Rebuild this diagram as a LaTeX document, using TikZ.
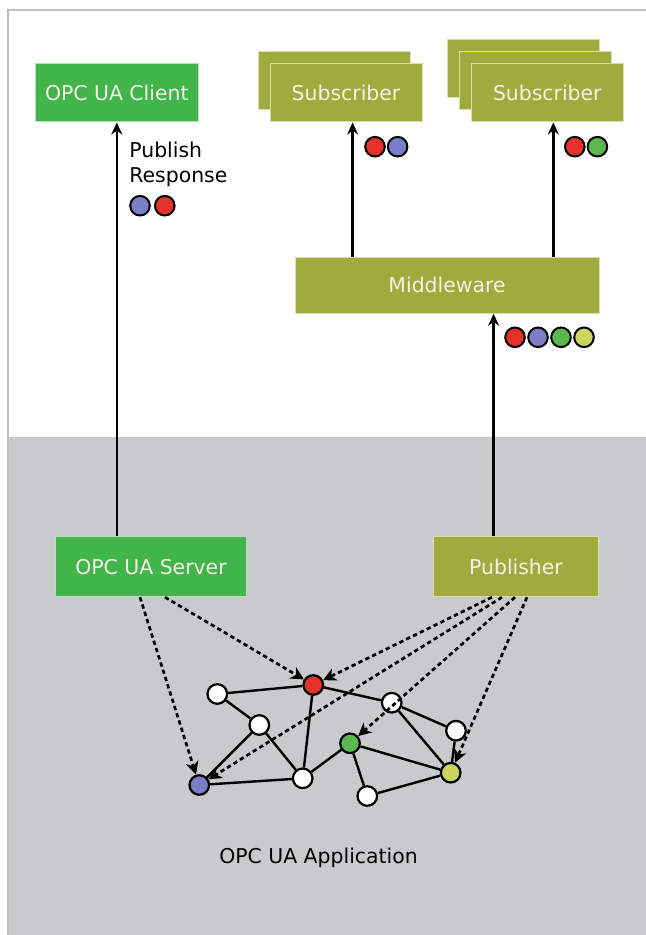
\documentclass[tikz,border=0pt]{standalone}
\usepackage{fontspec}
\setmainfont{DejaVu Sans}
\usetikzlibrary{arrows.meta}
\definecolor{uagreen}{HTML}{41B549}
\definecolor{uaolive}{HTML}{9FAB3C}
\definecolor{bggray}{HTML}{C8CACC}
\definecolor{framegray}{HTML}{BEBEBE}
\definecolor{boxtext}{HTML}{F3F3E8}
\definecolor{dred}{HTML}{E5312C}
\definecolor{dblue}{HTML}{7A7EC6}
\definecolor{dgreen}{HTML}{5BB84E}
\definecolor{dyellow}{HTML}{C9D55E}
\begin{document}
\begin{tikzpicture}[x=0.5pt,y=-0.5pt,
  font=\fontsize{10.2}{12.5}\selectfont,
  gbox/.style={rectangle, inner sep=0pt, fill=uagreen, draw=white!60!uagreen, line width=0.5pt, text=boxtext},
  obox/.style={rectangle, inner sep=0pt, fill=uaolive, draw=white!60!uaolive, line width=0.5pt, text=boxtext},
  subbox/.style={obox, minimum width=76pt, minimum height=29pt},
  gnode/.style={circle, inner sep=0pt, minimum size=9.8pt, draw=black, line width=1.1pt, fill=white},
  sdot/.style={circle, inner sep=0pt, minimum size=9.8pt, draw=black, line width=1pt},
  arr/.style={line width=1.25pt, -{Stealth[length=6pt,width=5.5pt]}},
  darr/.style={line width=1.35pt, dash pattern=on 2.2pt off 1.6pt, -{Stealth[length=6.5pt,width=6.5pt,inset=2pt]}},
  gedge/.style={line width=1.2pt},
]
\useasboundingbox (0,0) rectangle (646,935);
\fill[white] (0,0) rectangle (646,935);
\fill[bggray] (8,437) rectangle (646,935);
\draw[framegray, line width=0.8pt] (646,10) -- (8,10) -- (8,935);

% boxes
\node[gbox, minimum width=81.8pt, minimum height=29pt] (cl) at (116.8,93) {OPC UA Client};
\node[subbox] (s1b) at (334,81) {};
\node[subbox] (s1) at (346,93) {Subscriber};
\node[subbox] (s2c) at (523.3,69) {};
\node[subbox] (s2b) at (535.3,81) {};
\node[subbox] (s2) at (547.3,93) {Subscriber};
\node[obox, minimum width=152pt, minimum height=28pt] (mw) at (447,285.3) {Middleware};
\node[gbox, minimum width=95.5pt, minimum height=30pt] (srv) at (151,566.7) {OPC UA Server};
\node[obox, minimum width=82.5pt, minimum height=30pt] (pub) at (516,566.7) {Publisher};

% labels
\node[anchor=west, align=left, inner sep=0pt] (pr) at (129,164) {Publish\\Response};
\node (app) at (318.5,858) {OPC UA Application};

% data dots
\node[sdot, fill=dblue] (pr1) at (140,205.7) {};
\node[sdot, fill=dred] (pr2) at (164.8,205.7) {};
\node[sdot, fill=dred] (sd1) at (375,146.7) {};
\node[sdot, fill=dblue] (sd2) at (397.6,146.7) {};
\node[sdot, fill=dred] (sd3) at (574.8,146.7) {};
\node[sdot, fill=dgreen] (sd4) at (597.4,146.7) {};
\node[sdot, fill=dred] (md1) at (515,337.3) {};
\node[sdot, fill=dblue] (md2) at (538,337.3) {};
\node[sdot, fill=dgreen] (md3) at (561,337.3) {};
\node[sdot, fill=dyellow] (md4) at (584,337.3) {};

% solid arrows
\draw[arr] (srv.north -| cl.south) -- (cl.south);
\coordinate (pa) at ([xshift=-11.2pt]pub.north);
\draw[arr] (pa) -- (pa |- mw.south);
\coordinate (sa) at ([xshift=3.3pt]s1.south);
\draw[arr] (sa |- mw.north) -- (sa);
\coordinate (sb) at ([xshift=3pt]s2.south);
\draw[arr] (sb |- mw.north) -- (sb);

% graph
\node[gnode, fill=dred] (nr) at (313.3,685) {};
\node[gnode] (na) at (217.3,694) {};
\node[gnode] (nbw) at (259.3,725) {};
\node[gnode, fill=dblue] (nb) at (199.3,785) {};
\node[gnode] (nc) at (302.7,778.3) {};
\node[gnode] (nd) at (391.7,702.7) {};
\node[gnode, fill=dgreen] (ng) at (350,743.3) {};
\node[gnode] (ne) at (456,730.7) {};
\node[gnode, fill=dyellow] (ny) at (450.7,772.7) {};
\node[gnode] (nf) at (367.3,796) {};
\draw[gedge] (na) -- (nr);
\draw[gedge] (na) -- (nbw);
\draw[gedge] (nbw) -- (nb);
\draw[gedge] (nbw) -- (nc);
\draw[gedge] (nb) -- (nc);
\draw[gedge] (nr) -- (nc);
\draw[gedge] (nr) -- (nd);
\draw[gedge] (nc) -- (ng);
\draw[gedge] (nd) -- (ne);
\draw[gedge] (nd) -- (ny);
\draw[gedge] (ne) -- (ny);
\draw[gedge] (ng) -- (ny);
\draw[gedge] (ng) -- (nf);
\draw[gedge] (nf) -- (ny);

% dashed references
\draw[darr] ([xshift=-5.5pt]srv.south) -- (nb);
\draw[darr] ([xshift=7pt]srv.south) -- (nr);
\draw[darr] ([xshift=-12pt]pub.south) -- (nr);
\draw[darr] ([xshift=-7pt]pub.south) -- (nb);
\draw[darr] ([xshift=-0.5pt]pub.south) -- (ng);
\draw[darr] ([xshift=5.5pt]pub.south) -- (ny);
\end{tikzpicture}
\end{document}
